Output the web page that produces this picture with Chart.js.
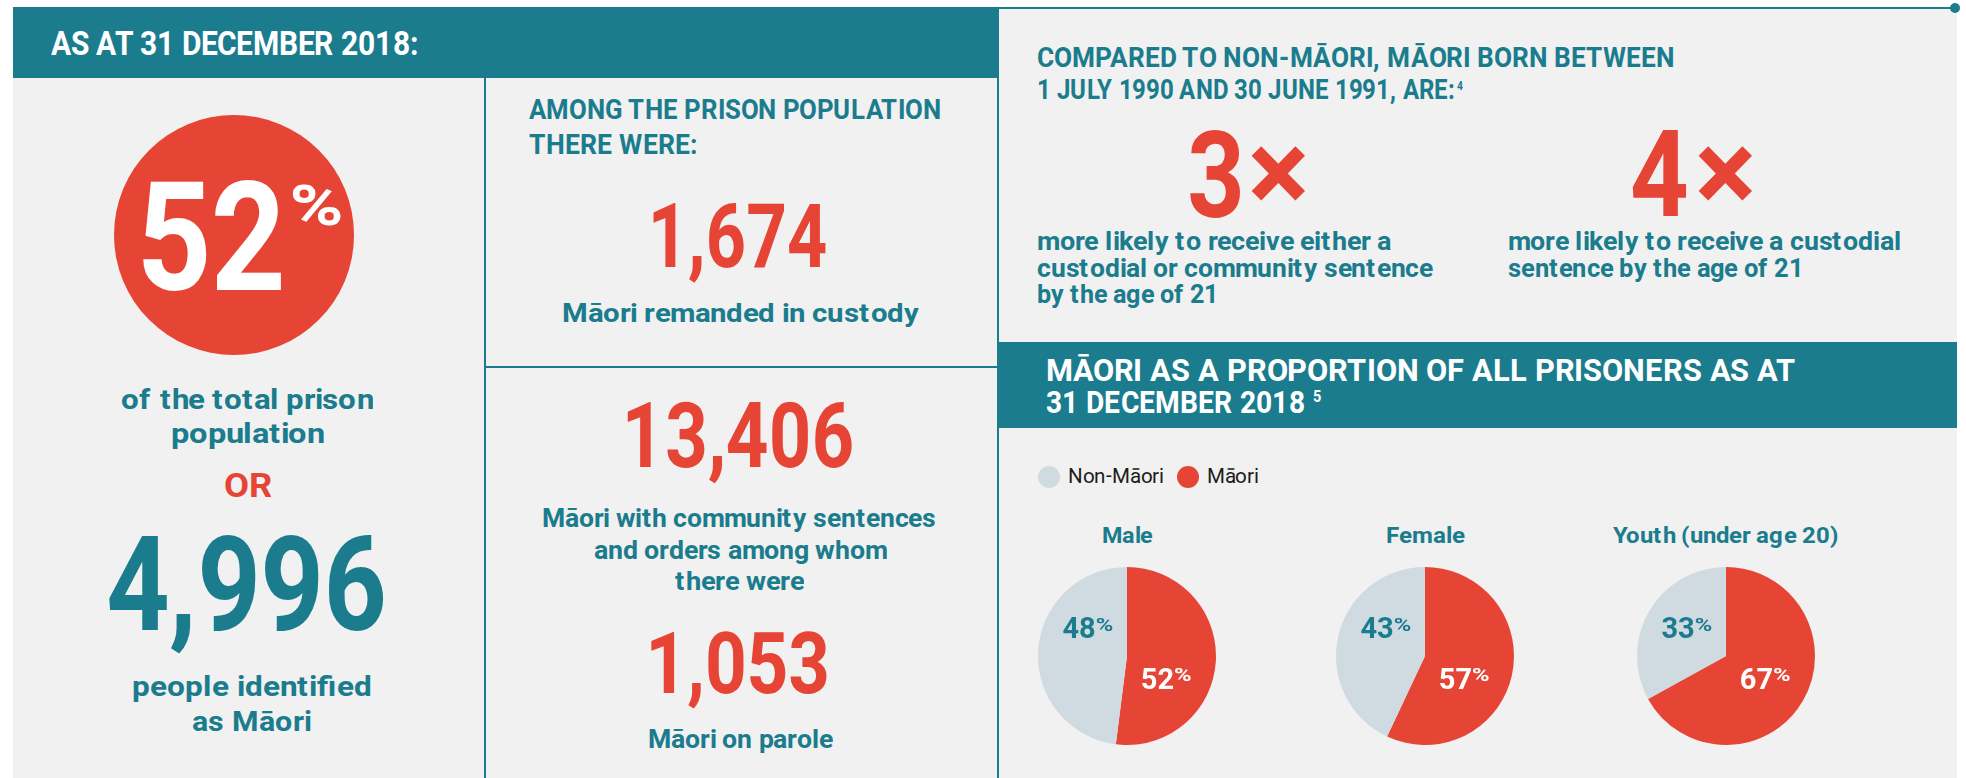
<!DOCTYPE html>
<html>
<head>
<meta charset="utf-8">
<script src="https://cdn.jsdelivr.net/npm/chart.js"></script>
<style>
  @font-face { font-family: "RobotoTight"; font-weight: 700; src: local("Roboto Bold"), local("Roboto-Bold"); ascent-override: 80%; descent-override: 10%; line-gap-override: 0%; }
  @font-face { font-family: "RobotoTight"; font-weight: 400; src: local("Roboto Regular"), local("Roboto-Regular"), local("Roboto"); ascent-override: 80%; descent-override: 10%; line-gap-override: 0%; }
  body { margin: 0; background: #fff; }
  #stage { position: relative; width: 1966px; height: 778px; overflow: hidden; font-family: RobotoTight, Roboto, "Open Sans", sans-serif; }
  .box { position: absolute; }
  .t { position: absolute; white-space: nowrap; line-height: 1; transform-origin: 0 0; }
  canvas { position: absolute; }
</style>
</head>
<body>
<div id="stage">
  <div class="box" style="left:13px;top:8px;width:1944px;height:770px;background:#f1f1f1"></div>
  <div class="box" style="left:13px;top:7px;width:985px;height:71px;background:#1b7c8e"></div>
  <div class="box" style="left:997px;top:7px;width:958px;height:2px;background:#1b7c8e"></div>
  <div class="box" style="left:1950px;top:3px;width:10px;height:10px;border-radius:50%;background:#1b7c8e"></div>
  <div class="box" style="left:484px;top:78px;width:2px;height:700px;background:#1b7c8e"></div>
  <div class="box" style="left:997px;top:8px;width:2px;height:770px;background:#1b7c8e"></div>
  <div class="box" style="left:485px;top:366px;width:512px;height:2px;background:#1b7c8e"></div>
  <div class="box" style="left:998px;top:342px;width:959px;height:86px;background:#1b7c8e"></div>
  <div class="box" style="left:114px;top:115px;width:240px;height:240px;border-radius:50%;background:#e64536"></div>
</div>
<script>
// prisoner proportions by group (percent)
const groups = ['Male', 'Female', 'Youth (under age 20)'];
const maoriPct = [52, 57, 67];
const nonMaoriPct = [48, 43, 33];
const seriesNames = ['Māori', 'Non-Māori'];
const seriesColors = ['#e64536', '#cfdbe1'];

// headline figures
const prisonShare = 52;
const maoriPrisoners = '4,996';
const remanded = '1,674';
const community = '13,406';
const parole = '1,053';
const likelihood = ['3', '4'];

const teal = '#1b7c8e';
const red = '#e64536';
const stage = document.getElementById('stage');

function put(html, o) {
  const d = document.createElement('div');
  d.className = 't';
  d.innerHTML = html;
  d.style.fontSize = o.fs + 'px';
  d.style.fontWeight = o.wt || 700;
  d.style.color = o.col || teal;
  stage.appendChild(d);
  const w0 = d.getBoundingClientRect().width;
  const k = o.w ? o.w / w0 : (o.k || 1);
  const left = o.cx !== undefined ? o.cx - w0 * k / 2 : o.x;
  d.style.left = left + 'px';
  d.style.top = (o.base - 0.846 * o.fs) + 'px';
  d.style.transform = 'scaleX(' + k + ')';
  return d;
}

// left column
put('AS AT 31 DECEMBER 2018:', { x: 51, base: 55, fs: 33, w: 367, col: '#fff' });
put(String(prisonShare), { x: 136, base: 290, fs: 152, w: 150, col: '#fff' });
put('%', { x: 289, base: 225, fs: 56, w: 54, col: '#fff' });
put('of the total prison', { cx: 247, base: 409, fs: 27, w: 252 });
put('population', { cx: 247, base: 443, fs: 27, w: 153 });
put('OR', { cx: 247, base: 497, fs: 34, w: 47, col: red });
put(maoriPrisoners, { cx: 246, base: 630, fs: 131, w: 281 });
put('people identified', { cx: 252, base: 697, fs: 28, w: 240 });
put('as Māori', { cx: 252, base: 732, fs: 28, w: 120 });

// middle column
put('AMONG THE PRISON POPULATION', { x: 529, base: 120, fs: 28, w: 412 });
put('THERE WERE:', { x: 529, base: 155, fs: 28, w: 169 });
put(remanded, { cx: 737, base: 267, fs: 89, w: 179, col: red });
put('Māori remanded in custody', { cx: 740, base: 322, fs: 25, w: 357 });
put(community, { cx: 738, base: 467, fs: 90, w: 233, col: red });
put('Māori with community sentences', { cx: 739, base: 527, fs: 25, w: 394 });
put('and orders among whom', { cx: 740, base: 559, fs: 25, w: 293 });
put('there were', { cx: 739, base: 590, fs: 25, w: 129 });
put(parole, { cx: 737, base: 693, fs: 86, w: 185, col: red });
put('Māori on parole', { cx: 740, base: 748, fs: 25, w: 185 });

// right column, top
put('COMPARED TO NON-MĀORI, MĀORI BORN BETWEEN', { x: 1037, base: 68, fs: 28, w: 638 });
put('1 JULY 1990 AND 30 JUNE 1991, ARE:', { x: 1037, base: 100, fs: 28, w: 418 });
put('4', { x: 1457, base: 90, fs: 12, k: 0.85 });
put(likelihood[0], { x: 1187, base: 217, fs: 120, w: 58, col: red });
put('×', { cx: 1278, base: 212, fs: 115, col: red });
put(likelihood[1], { x: 1630, base: 216, fs: 120, w: 59, col: red });
put('×', { cx: 1725, base: 212, fs: 115, col: red });
put('more likely to receive either a', { x: 1037, base: 250, fs: 25, w: 354 });
put('custodial or community sentence', { x: 1037, base: 277, fs: 25, w: 396 });
put('by the age of 21', { x: 1037, base: 303, fs: 25, w: 181 });
put('more likely to receive a custodial', { x: 1508, base: 250, fs: 25, w: 393 });
put('sentence by the age of 21', { x: 1508, base: 277, fs: 25, w: 295 });

// right column, pies
put('MĀORI AS A PROPORTION OF ALL PRISONERS AS AT', { x: 1046, base: 381, fs: 31, w: 750, col: '#fff' });
put('31 DECEMBER 2018', { x: 1046, base: 413, fs: 31, w: 259, col: '#fff' });
put('5', { x: 1313, base: 402, fs: 17, k: 0.85, col: '#fff' });

// legend, Non-Māori first
let lx = 1038;
[1, 0].forEach(j => {
  const dot = document.createElement('div');
  dot.className = 'box';
  dot.style.cssText += `left:${lx}px;top:466px;width:22px;height:22px;border-radius:50%;background:${seriesColors[j]}`;
  stage.appendChild(dot);
  const t = put(seriesNames[j], { x: lx + 30, base: 483, fs: 21, wt: 400, col: '#1d1d1b', k: 0.98 });
  lx += 30 + t.getBoundingClientRect().width + 13;
});

const pieCx = [1127, 1425, 1726];
const pieCy = 656;
const titleW = [51, 79, 226];

const pctLabels = {
  id: 'pctLabels',
  afterDatasetsDraw(chart) {
    const ctx = chart.ctx;
    const meta = chart.getDatasetMeta(0);
    meta.data.forEach((arc, j) => {
      const r = arc.outerRadius;
      const off = j === 0 ? [0.44, 0.25] : [-0.44, -0.32];
      const px = arc.x + off[0] * r;
      const py = arc.y + off[1] * r;
      const num = String(chart.data.datasets[0].data[j]);
      ctx.save();
      ctx.fillStyle = j === 0 ? '#fff' : teal;
      ctx.textBaseline = 'alphabetic';
      ctx.font = 'bold 29px Roboto';
      const wn = ctx.measureText(num).width;
      ctx.font = 'bold 19px Roboto';
      const wp = ctx.measureText('%').width * 1.25;
      const x0 = px - (wn + wp) / 2;
      const base = py + 10.5;
      ctx.font = 'bold 29px Roboto';
      ctx.fillText(num, x0, base);
      ctx.font = 'bold 19px Roboto';
      ctx.translate(x0 + wn, base - 21 + 13.5);
      ctx.scale(1.25, 1);
      ctx.fillText('%', 0, 0);
      ctx.restore();
    });
  }
};

groups.forEach((g, i) => {
  put(g, { cx: pieCx[i], base: 543, fs: 22, w: titleW[i] });
  const c = document.createElement('canvas');
  c.width = 200;
  c.height = 200;
  c.style.left = (pieCx[i] - 100) + 'px';
  c.style.top = (pieCy - 100) + 'px';
  stage.appendChild(c);
  new Chart(c, {
    type: 'pie',
    data: {
      labels: seriesNames,
      datasets: [{
        data: [maoriPct[i], nonMaoriPct[i]],
        backgroundColor: seriesColors,
        borderWidth: 0
      }]
    },
    options: {
      responsive: false,
      animation: false,
      layout: { padding: 11 },
      plugins: {
        legend: { display: false },
        tooltip: { enabled: false }
      }
    },
    plugins: [pctLabels]
  });
});
</script>
</body>
</html>
